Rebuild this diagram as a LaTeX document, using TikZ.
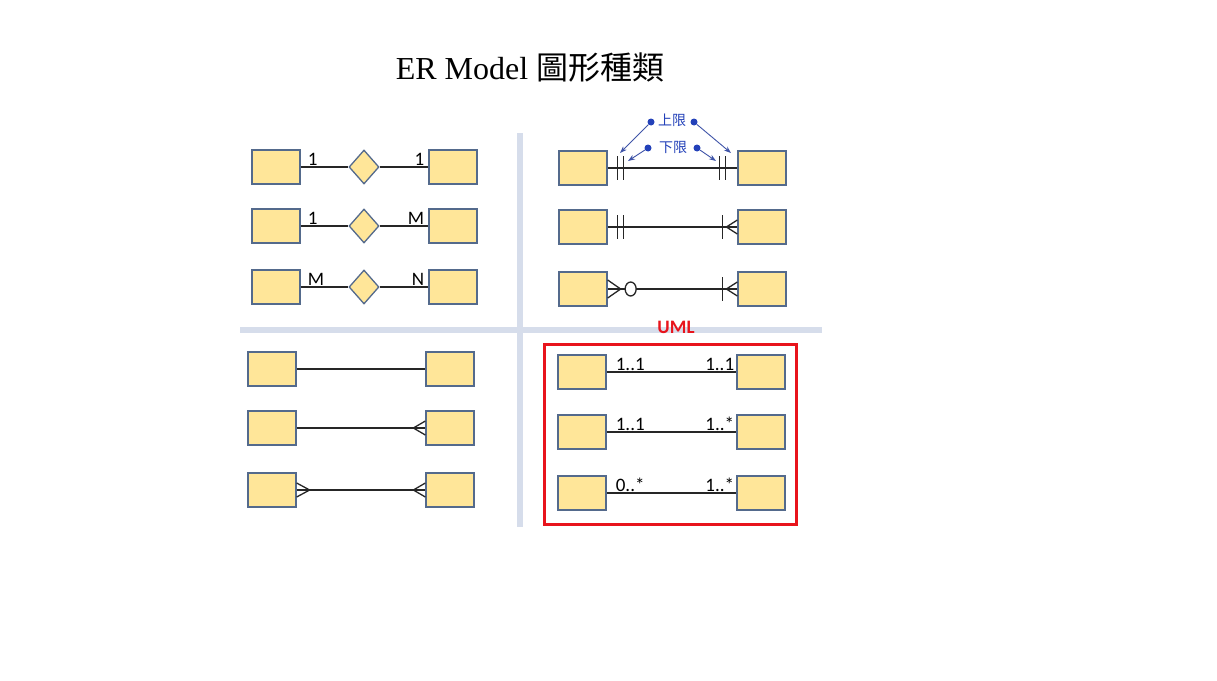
\documentclass[tikz,border=0pt]{standalone}
\usepackage{fontspec}
\setmainfont{Liberation Serif}
\newfontfamily\cjk{Noto Sans CJK TC}
\newfontfamily\lbl{Carlito}
\usetikzlibrary{shapes.geometric,arrows.meta,positioning}
\definecolor{boxfill}{RGB}{255,230,153}
\definecolor{boxline}{RGB}{84,106,140}
\definecolor{sepline}{RGB}{214,221,235}
\definecolor{umlred}{RGB}{232,20,28}
\definecolor{notecol}{RGB}{35,65,185}
\tikzset{
  ent/.style={draw=boxline,fill=boxfill,line width=1.3pt,minimum width=48pt,minimum height=34pt,inner sep=0pt},
  rel/.style={diamond,draw=boxline,fill=boxfill,line width=1.3pt,minimum width=30pt,minimum height=34pt,inner sep=0pt},
  link/.style={black!85,line width=1.3pt},
  card/.style={font=\lbl\fontsize{19}{19}\selectfont,inner sep=1pt},
  sepbar/.style={sepline,line width=6pt},
  dotmark/.style={circle,fill=notecol,inner sep=0pt,minimum size=7pt},
  note/.style={notecol!70!gray,line width=0.9pt,-{Stealth[length=7pt,width=5pt]}},
}
\begin{document}
\begin{tikzpicture}[x=1pt,y=-1pt]
        \fill[white] (0,0) rectangle (1217,680);
        \useasboundingbox (0,0) rectangle (1217,680);
        \node[font=\fontsize{32}{32}\selectfont] (title) at (530,68) {ER Model {\cjk 圖形種類}};
        \draw[sepbar] (520,133) -- (520,527);
        \draw[sepbar] (240,330) -- (822,330);
        \foreach \y/\a/\b [count=\i] in {167/1/1,226/1/M,287/M/N}{
            \node[ent] (el\i) at (276,\y) {};
            \node[rel] (dm\i) at (364,\y) {};
            \node[ent] (er\i) at (453,\y) {};
            \draw[link] (el\i) -- (dm\i) -- (er\i);
            \node[card,anchor=south west] (al\i) at ([xshift=6pt]el\i.east) {\a};
            \node[card,anchor=south east] (ar\i) at ([xshift=-3pt]er\i.west) {\b};
        }
        \foreach \y [count=\i] in {369,428,490}{
            \node[ent] (bl\i) at (272,\y) {};
            \node[ent] (br\i) at (450,\y) {};
            \draw[link] (bl\i) -- (br\i);
        }
        \draw[link] ([yshift=7pt]br2.west) -- ++(-12pt,-7pt) -- ++(12pt,-7pt);
        \draw[link] ([yshift=7pt]br3.west) -- ++(-12pt,-7pt) -- ++(12pt,-7pt);
        \draw[link] ([yshift=7pt]bl3.east) -- ++(13pt,-7pt) -- ++(-13pt,-7pt);
        \foreach \y [count=\i] in {168,227,289}{
            \node[ent] (cl\i) at (583,\y) {};
            \node[ent] (cr\i) at (762,\y) {};
            \draw[link] (cl\i) -- (cr\i);
        }
        \foreach \d in {10,16}{
            \draw[link] ([xshift=\d pt,yshift=12pt]cl1.east) -- ++(0,-24pt);
            \draw[link] ([xshift=-\d pt-2pt,yshift=12pt]cr1.west) -- ++(0,-24pt);
            \draw[link] ([xshift=\d pt,yshift=12pt]cl2.east) -- ++(0,-24pt);
        }
        \foreach \i in {2,3}{
            \draw[link] ([xshift=-15pt,yshift=12pt]cr\i.west) -- ++(0,-24pt);
            \draw[link] ([yshift=7pt]cr\i.west) -- ++(-11pt,-7pt) -- ++(11pt,-7pt);
        }
        \draw[link] ([yshift=9pt]cl3.east) -- ++(13pt,-9pt) -- ++(-13pt,-9pt);
        \draw[link,fill=white] ([xshift=23pt]cl3.east) ellipse (5.5pt and 7pt);
        \node[text=notecol,font=\cjk\fontsize{14}{14}\selectfont] (upper) at (672,120) {上限};
        \node[text=notecol,font=\cjk\fontsize{14}{14}\selectfont] (lower) at (673,147) {下限};
        \node[dotmark] (u1) at (651,122) {};
        \node[dotmark] (u2) at (694,122) {};
        \node[dotmark] (d1) at (648,148) {};
        \node[dotmark] (d2) at (697,148) {};
        \coordinate (tu1) at (620,153);
        \coordinate (tu2) at (731,153);
        \coordinate (td1) at (628,161);
        \coordinate (td2) at (716,161);
        \draw[note] (u1) -- (tu1);
        \draw[note] (u2) -- (tu2);
        \draw[note] (d1) -- (td1);
        \draw[note] (d2) -- (td2);
        \draw[umlred,line width=3pt] (544,344) rectangle (796,524);
        \node[text=umlred,font=\lbl\bfseries\fontsize{19}{19}\selectfont] (umltxt) at (676,327) {UML};
        \foreach \y/\a/\b [count=\i] in {372/1..1/1..1,432/1..1/1..*,493/0..*/1..*}{
            \node[ent] (ul\i) at (582,\y) {};
            \node[ent] (ur\i) at (761,\y) {};
            \draw[link] (ul\i) -- (ur\i);
            \node[card,anchor=south west] (ml\i) at ([xshift=8pt]ul\i.east) {\a};
            \node[card,anchor=south east] (mr\i) at ([xshift=-1pt]ur\i.west) {\b};
        }
\end{tikzpicture}
\end{document}
